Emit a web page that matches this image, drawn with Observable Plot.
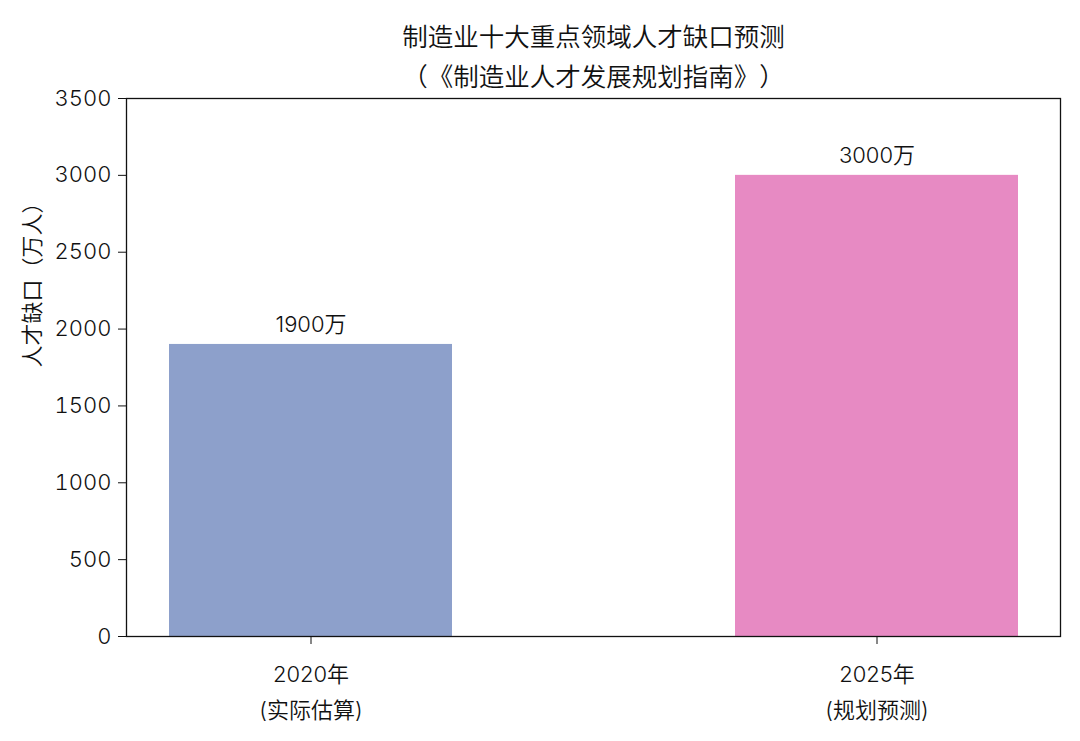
<!doctype html>
<html>
<head>
<meta charset="utf-8">
<style>
  body { margin: 0; background: #fff; }
  svg text { font-feature-settings: "chws" 0, "halt" 0, "palt" 0; text-spacing-trim: space-all; }
</style>
</head>
<body>
<div id="myplot"></div>
<script src="https://cdn.jsdelivr.net/npm/d3@7"></script>
<script src="https://cdn.jsdelivr.net/npm/@observablehq/plot@0.6"></script>
<script>
  const years = ["2020年", "2025年"];
  const notes = ["(实际估算)", "(规划预测)"];
  const gaps = [1900, 3000];
  const barLabels = ["1900万", "3000万"];
  const colors = ["#8da0cb", "#e78ac3"];
  const yTicks = [0, 500, 1000, 1500, 2000, 2500, 3000, 3500];
  const title = "制造业十大重点领域人才缺口预测";
  const subtitle = "（《制造业人才发展规划指南》）";

  const data = years.map((year, i) => ({
    year,
    note: notes[i],
    gap: gaps[i],
    label: barLabels[i],
    color: colors[i],
  }));

  const font = "Inter, 'Noto Sans CJK SC', sans-serif";
  const ink = "#111";
  const weight = 350;

  const plot = Plot.plot({
    width: 1080,
    height: 741,
    marginLeft: 126,
    marginRight: 20,
    marginTop: 98,
    marginBottom: 105,
    style: { fontFamily: font, fontSize: "22px", color: ink, background: "#fff" },
    x: {
      domain: years,
      paddingInner: 0.5,
      paddingOuter: 0.075,
    },
    y: { domain: [0, 3500] },
    marks: [
      Plot.barY(data, { x: "year", y: "gap", fill: "color" }),
      Plot.text(data, {
        x: "year",
        y: "gap",
        text: "label",
        dy: -19,
        fontSize: 22,
        fontWeight: weight,
        fill: ink,
      }),
      Plot.frame({ stroke: "#111", strokeWidth: 1.3 }),
      Plot.axisY({
        ticks: yTicks,
        tickFormat: (d) => String(d),
        tickSize: 8,
        tickPadding: 7,
        fontSize: 22,
        fontWeight: weight,
        label: null,
        stroke: "#111",
      }),
      Plot.axisX({
        tickSize: 8,
        tickPadding: 12,
        fontSize: 22,
        fontWeight: weight,
        lineHeight: 1.64,
        label: null,
        stroke: "#111",
        tickFormat: (d) => d + "\n" + notes[years.indexOf(d)],
      }),
      Plot.text(["人才缺口（万人）"], {
        frameAnchor: "left",
        dx: -94,
        rotate: -90,
        fontSize: 22,
        fontWeight: weight,
        fill: ink,
      }),
      // two title lines above the frame
      Plot.text([title], {
        frameAnchor: "top",
        lineAnchor: "middle",
        dy: -61,
        fontSize: 25.5,
        fontWeight: weight,
        fill: ink,
      }),
      Plot.text([subtitle], {
        frameAnchor: "top",
        lineAnchor: "middle",
        dy: -21,
        fontSize: 25.5,
        fontWeight: weight,
        fill: ink,
      }),
    ],
  });

  const div = document.querySelector("#myplot");
  div.append(plot);
</script>
</body>
</html>
